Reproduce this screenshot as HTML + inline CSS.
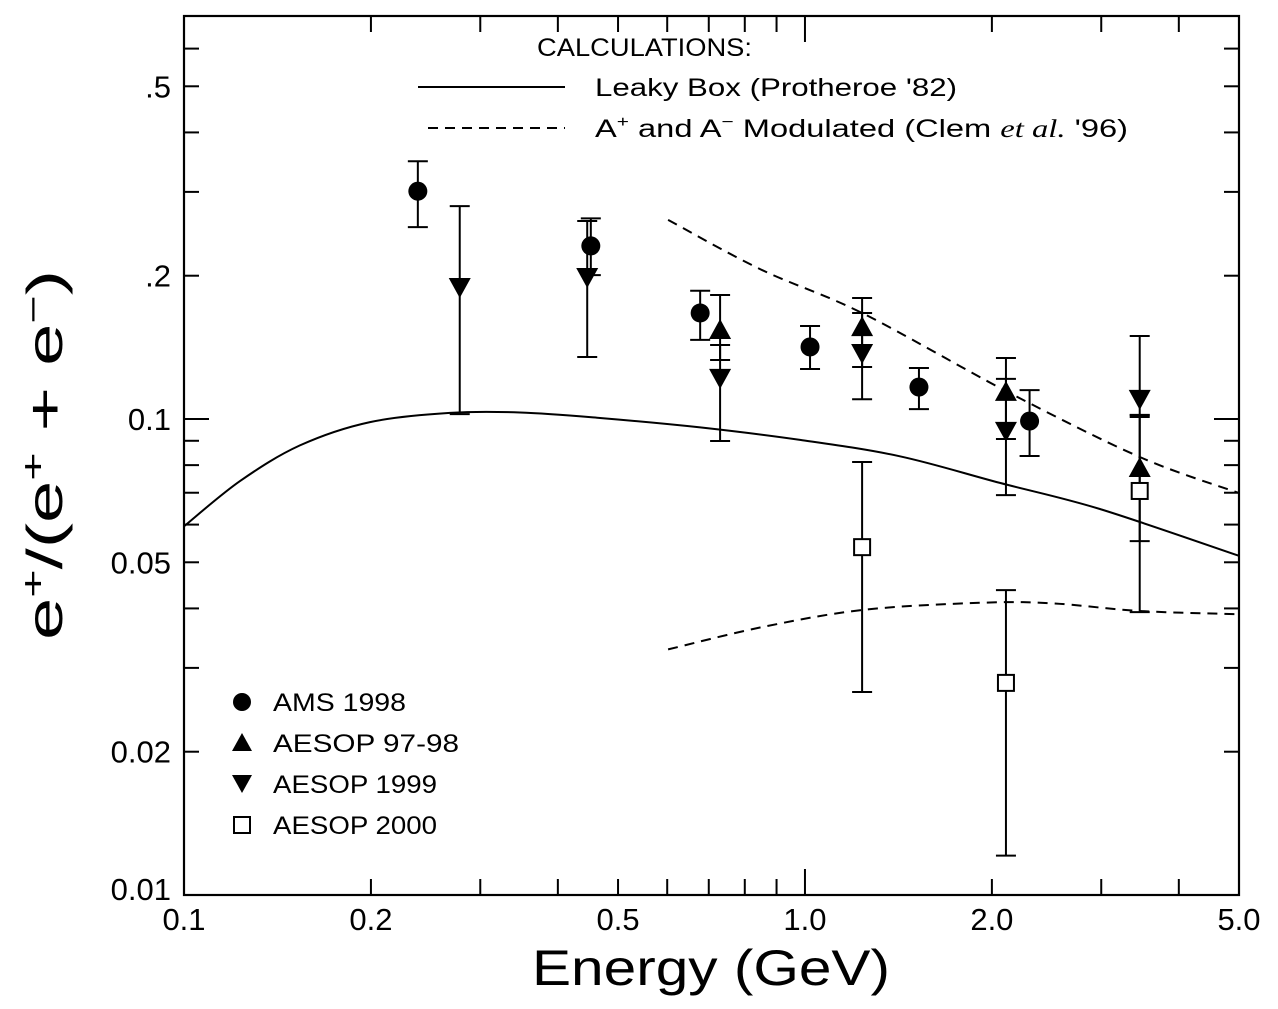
<!DOCTYPE html>
<html><head><meta charset="utf-8"><style>
html,body{margin:0;padding:0;background:#fff;}
svg{display:block;font-family:"Liberation Sans","DejaVu Sans",sans-serif;}
</style></head><body>
<svg id="chart" width="1278" height="1009" viewBox="0 0 1278 1009" xmlns="http://www.w3.org/2000/svg">
<rect x="0" y="0" width="1278" height="1009" fill="#fff"/>
<g id="ticks"></g>
<g id="curves"></g>
<g id="points"></g>
<rect x="184" y="16" width="1055" height="879" fill="none" stroke="#000" stroke-width="2.2"/>
<g id="labels" font-size="31" fill="#000"></g>
<text x="711" y="985" font-size="50" text-anchor="middle" textLength="358" lengthAdjust="spacingAndGlyphs">Energy (GeV)</text>
<text transform="translate(62,455) rotate(-90)" font-size="50" text-anchor="middle" textLength="370" lengthAdjust="spacingAndGlyphs">e<tspan dy="-18" font-size="32">+</tspan><tspan dy="18">/(e</tspan><tspan dy="-18" font-size="32">+</tspan><tspan dy="18"> + e</tspan><tspan dy="-18" font-size="32">−</tspan><tspan dy="18">)</tspan></text>
<g font-size="25">
<text x="537" y="56" textLength="215" lengthAdjust="spacingAndGlyphs">CALCULATIONS:</text>
<line x1="418" y1="87" x2="565" y2="87" stroke="#000" stroke-width="2"/>
<text x="595" y="96" textLength="362" lengthAdjust="spacingAndGlyphs">Leaky Box (Protheroe '82)</text>
<line x1="428" y1="128" x2="565" y2="128" stroke="#000" stroke-width="2" stroke-dasharray="10,7"/>
<text x="595" y="137" textLength="533" lengthAdjust="spacingAndGlyphs">A<tspan dy="-10" font-size="16">+</tspan><tspan dy="10"> and A</tspan><tspan dy="-10" font-size="16">−</tspan><tspan dy="10"> Modulated (Clem </tspan><tspan font-family="Liberation Serif,serif" font-style="italic">et al.</tspan> '96)</text>
</g>
<g font-size="25">
<circle cx="242" cy="702" r="9" fill="#000"/>
<text x="273" y="711" textLength="133" lengthAdjust="spacingAndGlyphs">AMS 1998</text>
<polygon points="232,751 252,751 242,733" fill="#000"/>
<text x="273" y="752" textLength="186" lengthAdjust="spacingAndGlyphs">AESOP 97-98</text>
<polygon points="232,775 252,775 242,793" fill="#000"/>
<text x="273" y="793" textLength="164" lengthAdjust="spacingAndGlyphs">AESOP 1999</text>
<rect x="234" y="817" width="16" height="16" fill="#fff" stroke="#000" stroke-width="2"/>
<text x="273" y="834" textLength="164" lengthAdjust="spacingAndGlyphs">AESOP 2000</text>
</g>
</svg>
<script>
// ---- data ----
const xTickValues=[0.2,0.3,0.4,0.5,0.6,0.7,0.8,0.9,1,2,3,4];
const xTickLabels=[["0.1",0.1],["0.2",0.2],["0.5",0.5],["1.0",1.0],["2.0",2.0],["5.0",5.0]];
const yTickValues=[0.02,0.03,0.04,0.05,0.06,0.07,0.08,0.09,0.1,0.2,0.3,0.4,0.5,0.6];
const yTickLabels=[[".5",0.5],[".2",0.2],["0.1",0.1],["0.05",0.05],["0.02",0.02],["0.01",0.0103]];
const amsE=[0.238,0.452,0.678,1.019,1.526,2.30];
const amsV=[0.301,0.231,0.167,0.1417,0.1167,0.0990];
const amsHi=[0.348,0.264,0.186,0.1568,0.128,0.115];
const amsLo=[0.253,0.2006,0.1466,0.1274,0.1049,0.0836];
const up9798E=[0.730,1.236,2.107,3.46];
const up9798V=[0.1538,0.156,0.114,0.0789];
const up9798Hi=[0.1822,0.1796,0.1343,0.102];
const up9798Lo=[0.133,0.1286,0.0908,0.0554];
const dn1999E=[0.278,0.446,0.730,1.236,2.107,3.46];
const dn1999V=[0.1894,0.1987,0.122,0.1376,0.0944,0.1102];
const dn1999Hi=[0.280,0.2606,0.143,0.167,0.1214,0.1494];
const dn1999Lo=[0.1024,0.135,0.0899,0.110,0.0692,0.1018];
const sq2000E=[1.236,2.107,3.46];
const sq2000V=[0.0538,0.0279,0.0706];
const sq2000Hi=[0.0812,0.0437,0.101];
const sq2000Lo=[0.0267,0.0121,0.0393];
const leakyE=[0.1,0.123,0.1537,0.1993,0.268,0.3476,0.4677,0.678,0.982,1.422,2.06,2.985,5.0];
const leakyV=[0.0595,0.0740,0.0880,0.0985,0.1030,0.1032,0.1005,0.0960,0.0904,0.0835,0.0734,0.0647,0.0516];
const modHiE=[0.602,0.85,1.236,2.107,3.46,5.0];
const modHiV=[0.262,0.206,0.167,0.1145,0.0832,0.0699];
const modLoE=[0.602,0.85,1.236,1.913,2.5,3.46,5.0];
const modLoV=[0.0328,0.0365,0.0397,0.0411,0.041,0.0395,0.0389];
// ---- axes ----
const L=184,R=1239,T=16,B=895;
const xs=e=>L+(R-L)*Math.log10(e/0.1)/Math.log10(50);
const ys=v=>419-476*Math.log10(v/0.1);
const NS="http://www.w3.org/2000/svg";
function mk(tag,attrs,parent){const el=document.createElementNS(NS,tag);for(const k in attrs)el.setAttribute(k,attrs[k]);parent.appendChild(el);return el;}
const tk=document.getElementById('ticks');
xTickValues.forEach(v=>{const x=xs(v);const len=(v===1)?26:16;
 const a=mk('line',{x1:x,y1:B,x2:x,y2:B-len,stroke:'#000','stroke-width':2},tk);
 
 
 const b=mk('line',{x1:x,y1:T,x2:x,y2:T+len,stroke:'#000','stroke-width':2},tk);
 
 });
yTickValues.forEach(v=>{const y=ys(v);const len=(Math.abs(v-0.1)<1e-9)?25:15;
 const a=mk('line',{x1:L,y1:y,x2:L+len,y2:y,stroke:'#000','stroke-width':2},tk);
 
 
 const b=mk('line',{x1:R,y1:y,x2:R-len,y2:y,stroke:'#000','stroke-width':2},tk);
 
 });
const lb=document.getElementById('labels');
xTickLabels.forEach(([t,v])=>{const el=mk('text',{x:xs(v),y:930,'text-anchor':'middle'},lb);el.textContent=t;
 
 });
yTickLabels.forEach(([t,v])=>{const el=mk('text',{x:171,y:ys(v)+11,'text-anchor':'end'},lb);el.textContent=t;
 
 });
// ---- curves (Catmull-Rom smoothing through data points) ----
const cg=document.getElementById('curves');
function curve(E,V,dash,name){
 const P=E.map((e,i)=>[xs(e),ys(V[i])]);
 let d='M'+P[0][0].toFixed(1)+','+P[0][1].toFixed(1);
 for(let i=0;i<P.length-1;i++){
  const p0=P[Math.max(0,i-1)],p1=P[i],p2=P[i+1],p3=P[Math.min(P.length-1,i+2)];
  const c1=[p1[0]+(p2[0]-p0[0])/6,p1[1]+(p2[1]-p0[1])/6];
  const c2=[p2[0]-(p3[0]-p1[0])/6,p2[1]-(p3[1]-p1[1])/6];
  d+=' C'+c1.map(n=>n.toFixed(1)).join(',')+' '+c2.map(n=>n.toFixed(1)).join(',')+' '+p2.map(n=>n.toFixed(1)).join(',');
 }
 const p=mk('path',{d:d,fill:'none',stroke:'#000','stroke-width':2,'stroke-linejoin':'round'},cg);
 if(dash)p.setAttribute('stroke-dasharray','10,7');
 
 }
curve(leakyE,leakyV,false,'leaky-box-curve');
curve(modHiE,modHiV,true,'modulated-upper-curve');
curve(modLoE,modLoV,true,'modulated-lower-curve');
// ---- points ----
const pg=document.getElementById('points');
function errbar(x,hi,lo){
 const g=mk('g',{stroke:'#000','stroke-width':2},pg);
 
 
 mk('line',{x1:x,y1:ys(hi),x2:x,y2:ys(lo)},g);
 mk('line',{x1:x-10,y1:ys(hi),x2:x+10,y2:ys(hi)},g);
 mk('line',{x1:x-10,y1:ys(lo),x2:x+10,y2:ys(lo)},g);}
function series(E,V,Hi,Lo,kind){
 E.forEach((e,i)=>{const x=xs(e),y=ys(V[i]);errbar(x,Hi[i],Lo[i]);
  let m;
  if(kind==='circle')m=mk('circle',{cx:x,cy:y,r:9.5,fill:'#000'},pg);
  else if(kind==='up')m=mk('polygon',{points:`${x-11},${y+9} ${x+11},${y+9} ${x},${y-11}`,fill:'#000'},pg);
  else if(kind==='down')m=mk('polygon',{points:`${x-11},${y-9} ${x+11},${y-9} ${x},${y+11}`,fill:'#000'},pg);
  else m=mk('rect',{x:x-8,y:y-8,width:16,height:16,fill:'#fff',stroke:'#000','stroke-width':2},pg);
  
  });}
series(amsE,amsV,amsHi,amsLo,'circle');
series(up9798E,up9798V,up9798Hi,up9798Lo,'up');
series(dn1999E,dn1999V,dn1999Hi,dn1999Lo,'down');
series(sq2000E,sq2000V,sq2000Hi,sq2000Lo,'square');
</script>
</body></html>
